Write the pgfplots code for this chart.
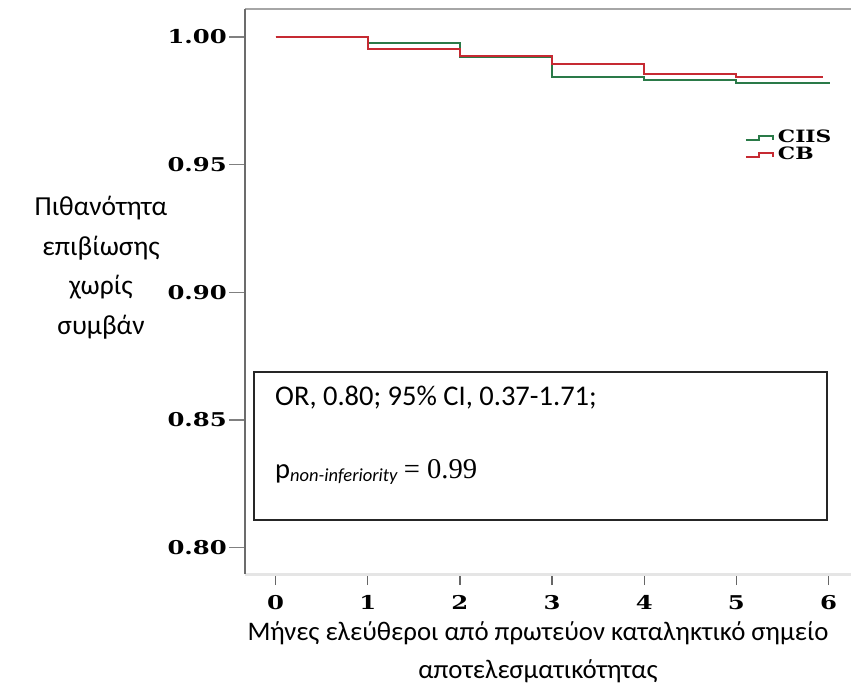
\documentclass[border=0pt]{standalone}
\usepackage{fontspec}
\setmainfont{Carlito}
\newfontfamily\tickf[FakeStretch=1.28]{DejaVu Serif}
\newfontfamily\numf{Liberation Serif}
\usepackage{pgfplots}
\pgfplotsset{compat=1.18}
\definecolor{cgreen}{HTML}{2A7A48}
\definecolor{cred}{HTML}{C62A32}
\begin{document}
\begin{tikzpicture}[x=1pt,y=1pt]
\path[use as bounding box] (0,0) rectangle (851,697);
\begin{axis}[at={(245pt,123pt)}, anchor=south west, scale only axis,
  width=606pt, height=565pt,
  xmin=-0.332, xmax=6.243, ymin=0.7897, ymax=1.011,
  axis line style={draw=none},
  xtick={0,...,6}, xticklabels={0,1,2,3,4,5,6},
  ytick={0.80,0.85,0.90,0.95,1.00}, yticklabels={0.80,0.85,0.90,0.95,1.00},
  xtick pos=bottom, ytick pos=left, tick align=outside,
  major tick length=16pt,
  x tick style={/pgfplots/major tick length=11pt, color=gray!80!black, line width=1.3pt},
  y tick style={color=gray, line width=1.3pt},
  ticklabel style={font=\tickf\bfseries\fontsize{19}{20}\selectfont},
  yticklabel style={inner sep=0pt, xshift=-2pt},
  xticklabel style={inner sep=0pt, yshift=-5pt},
  clip=false,
  legend style={at={(0.825,0.786)}, anchor=north west, draw=none, fill=none,
    inner sep=0pt, outer sep=0pt, row sep=0pt, column sep=4pt,
    font=\tickf\bfseries\fontsize{17}{17}\selectfont,
    nodes={inner sep=0pt, text height=12.5pt, text depth=4.5pt}},
  legend cell align=left,
  legend image code/.code={\draw[#1, line width=2pt] (0pt,-2pt) -- (13pt,-2pt) -- (13pt,2pt) -- (27pt,2pt) -- (27pt,-2pt);},
]
\draw[gray!20, line width=3pt] (rel axis cs:0,0) -- (rel axis cs:1,0);
\draw[gray!70, line width=2.5pt] (rel axis cs:0,1) -- (rel axis cs:1,1);
\draw[gray!85!black, line width=2pt] (rel axis cs:0,0) -- (rel axis cs:0,1);
\addplot[const plot, cgreen, line width=2pt] coordinates {(0,1.000)(1,0.9978)(2,0.9922)(3,0.9845)(4,0.9833)(5,0.9821)(6.0,0.9815)};
\addlegendentry{CIIS}
\addplot[const plot, cred, line width=2pt] coordinates {(0,1.000)(1,0.9953)(2,0.9927)(3,0.9894)(4,0.9856)(5,0.9845)(5.94,0.9845)};
\addlegendentry{CB}
\end{axis}
\begin{scope}[every node/.style={inner sep=0pt}]
\begin{scope}[every node/.append style={font=\fontsize{27.5}{30}\selectfont}]
\node[anchor=base] at (101,481) {Πιθανότητα};
\node[anchor=base] at (101,441.5) {επιβίωσης};
\node[anchor=base] at (101,402) {χωρίς};
\node[anchor=base] at (101,362.5) {συμβάν};
\end{scope}
\begin{scope}[every node/.append style={font=\fontsize{26.8}{30}\selectfont}]
\node[anchor=base] at (538,57) {Μήνες ελεύθεροι από πρωτεύον καταληκτικό σημείο};
\node[anchor=base] at (538,19) {αποτελεσματικότητας};
\end{scope}
\draw[black!85, line width=1.3pt] (254,177) rectangle (827,325);
\node[anchor=base west, font=\fontsize{28.5}{30}\selectfont] at (275,292) {OR, 0.80; 95\% CI, 0.37-1.71;};
\node[anchor=base west, font=\fontsize{28.5}{30}\selectfont] at (275,219) {p\raisebox{-3pt}{\fontsize{18.5}{19}\selectfont\itshape non-inferiority} {\numf\fontsize{28.6}{30}\selectfont = 0.99}};
\end{scope}
\end{tikzpicture}
\end{document}
